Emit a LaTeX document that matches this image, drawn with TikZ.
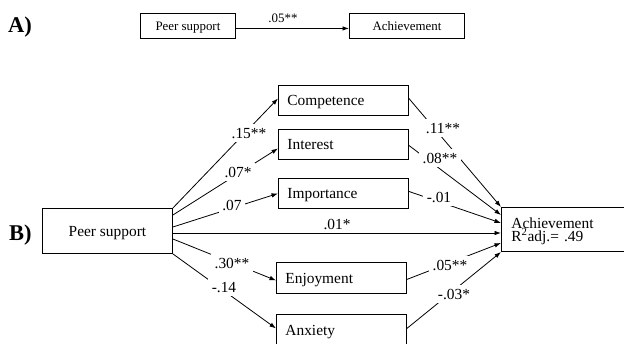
\documentclass[tikz,border=0pt]{standalone}
\usepackage{fontspec}
\setmainfont{Liberation Serif}
\usetikzlibrary{arrows.meta}
\newcommand\myfA{\fontsize{12.9}{15}\selectfont}
\newcommand\myfB{\fontsize{15.4}{13}\selectfont}
\newcommand\myfL{\fontsize{22.5}{26}\selectfont\bfseries}
\tikzset{
  box/.style={draw, line width=0.9pt, rectangle, inner sep=0pt, anchor=north west,
              text height=10.2pt, text depth=0pt},
  abox/.style={box, font=\myfA, text height=8.6pt},
  cbox/.style={box, font=\myfB},
  lbox/.style={box, font=\myfB, inner xsep=9pt, text width=112pt, align=left},
  conn/.style={line width=0.8pt, -{Latex[length=6.5pt,width=4.5pt]}},
  lbl/.style={font=\myfB, fill=white, inner sep=3.5pt, text height=10.4pt, text depth=0pt},
  albl/.style={font=\myfA, inner sep=1pt, text height=8.7pt, text depth=0pt},
  part/.style={font=\myfL, anchor=base west, inner sep=0pt}
}
\begin{document}
\begin{tikzpicture}[x=1pt,y=-1pt]
\useasboundingbox (0,0) rectangle (624,344);
\clip (0,0) rectangle (624,344);
\fill[white] (0,0) rectangle (624,344);

% ---- A ----
\node[part] (labA) at (8,33) {A)};
\node[abox, minimum width=95pt, minimum height=25pt] (psA) at (140,13) {Peer support};
\node[abox, minimum width=115pt, minimum height=25pt] (achA) at (349,13) {Achievement};
\draw[conn] ([yshift=-2.5pt]psA.east) -- ([yshift=-2.5pt]achA.west);
\node[albl] (lA) at (283,18.5) {.05**};

% ---- B ----
\node[part] (labB) at (9,241) {B)};
\node[cbox, minimum width=130pt, minimum height=45pt] (ps) at (42,208) {Peer support};
\node[lbox, minimum height=30pt] (comp) at (278,85) {Competence};
\node[lbox, minimum height=30pt] (int) at (278,129) {Interest};
\node[lbox, minimum height=30pt] (imp) at (278,178) {Importance};
\node[lbox, minimum height=31pt] (enj) at (276,262) {Enjoyment};
\node[lbox, minimum height=31pt] (anx) at (276,314) {Anxiety};
\node[box, font=\myfB, inner xsep=10pt, text width=130pt, align=left,
      minimum height=44pt, text depth=13pt] (ach) at (501,207)
      {Achievement\\R\textsuperscript{2}adj.= .49};

% left connectors
\draw[conn] (ps.north east) -- ([yshift=2pt]comp.west);
\draw[conn] ([yshift=-7pt]ps.north east) -- ([yshift=-4pt]int.west);
\draw[conn] ([yshift=-19pt]ps.north east) -- (imp.west);
\draw[conn] ([yshift=-25pt]ps.north east) -- ([yshift=-26pt]ach.north west);
\draw[conn] ([yshift=-31pt]ps.north east) -- ([yshift=-2.5pt]enj.west);
\draw[conn] (ps.south east) -- ([yshift=1.5pt]anx.west);

% right connectors
\draw[conn] ([yshift=2pt]comp.east) -- (ach.north west);
\draw[conn] ([yshift=-1pt]int.east) -- ([yshift=-8pt]ach.north west);
\draw[conn] ([yshift=2pt]imp.east) -- ([yshift=-16pt]ach.north west);
\draw[conn] ([yshift=-1.5pt]enj.east) -- ([yshift=-36pt]ach.north west);
\draw[conn] ([yshift=1.5pt]anx.east) -- ([yshift=-45pt]ach.north west);

% labels
\node[lbl] (l1) at (249,133) {.15**};
\node[lbl] (l2) at (238,172) {.07*};
\node[lbl] (l3) at (232,205) {.07};
\node[lbl, fill=none, inner sep=1pt] (l4) at (337,224) {.01*};
\node[lbl] (l5) at (232,263) {.30**};
\node[lbl] (l6) at (224,287) {-.14};
\node[lbl] (r1) at (443,128) {.11**};
\node[lbl] (r2) at (440,158) {.08**};
\node[lbl] (r3) at (439,197) {-.01};
\node[lbl] (r4) at (450,265) {.05**};
\node[lbl] (r5) at (454,294) {-.03*};
\end{tikzpicture}
\end{document}
